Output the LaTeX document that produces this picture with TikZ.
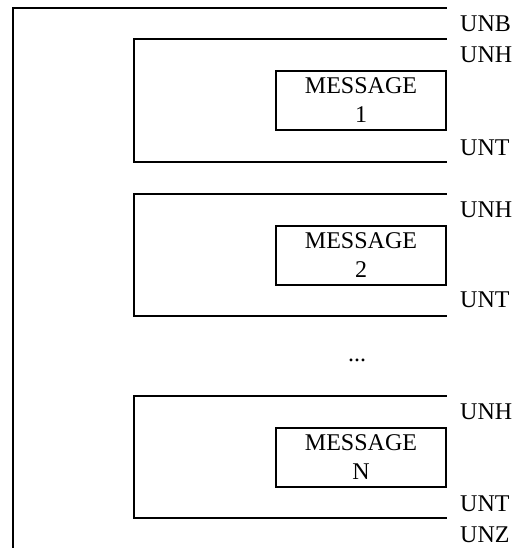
\documentclass[tikz,border=0pt]{standalone}
\usepackage{fontspec}
\setmainfont{Liberation Serif}
\begin{document}
\begin{tikzpicture}[x=1pt,y=-1pt,
  frame/.style={line width=1.5pt,line cap=rect},
  msg/.style={draw,line width=1.5pt,minimum width=170pt,minimum height=59pt,inner sep=0pt,align=center,font=\fontsize{24}{29}\selectfont},
  lab/.style={anchor=west,inner sep=0pt,font=\fontsize{24}{28}\selectfont}]
\useasboundingbox (0,0) rectangle (521,548);
% outer interchange frame
\coordinate (o1) at (446,8);
\coordinate (o2) at (13,548);
\draw[frame] (o1) -| (o2);
% group 1
\coordinate (g1a) at (446,39);
\coordinate (g1b) at (134,162);
\coordinate (g1c) at (446,162);
\draw[frame] (g1a) -| (g1b) -- (g1c);
\node[msg] (m1) at (361,100.5) {MESSAGE\\1};
% group 2
\coordinate (g2a) at (446,194);
\coordinate (g2b) at (134,316);
\coordinate (g2c) at (446,316);
\draw[frame] (g2a) -| (g2b) -- (g2c);
\node[msg] (m2) at (361,255.5) {MESSAGE\\2};
% dots
\node[font=\fontsize{24}{28}\selectfont] (dots) at (357,360) {...};
% group 3
\coordinate (g3a) at (446,396);
\coordinate (g3b) at (134,518);
\coordinate (g3c) at (446,518);
\draw[frame] (g3a) -| (g3b) -- (g3c);
\node[msg] (m3) at (361,457.5) {MESSAGE\\N};
% labels
\node[lab] (unb) at (460,24) {UNB};
\node[lab] (unh1) at (460,55) {UNH};
\node[lab] (unt1) at (460,148) {UNT};
\node[lab] (unh2) at (460,210) {UNH};
\node[lab] (unt2) at (460,300) {UNT};
\node[lab] (unh3) at (460,412) {UNH};
\node[lab] (unt3) at (460,504) {UNT};
\node[lab] (unz) at (460,535) {UNZ};
\end{tikzpicture}
\end{document}
